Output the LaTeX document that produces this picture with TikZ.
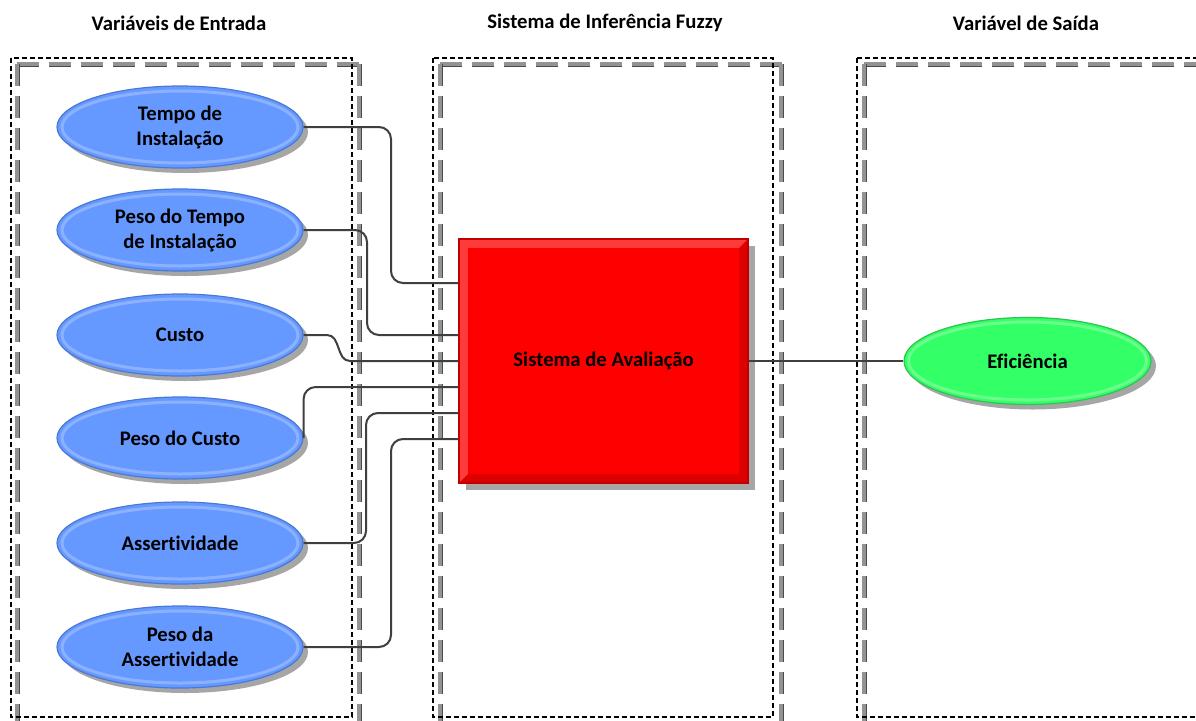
\documentclass[tikz,border=0pt]{standalone}
\usepackage{fontspec}
\setmainfont{Carlito}[Ligatures=NoCommon]
\usetikzlibrary{shapes.geometric,shadows}
\definecolor{bluefill}{HTML}{6699FF}
\definecolor{bluering}{HTML}{8CB2FF}
\definecolor{blueborder}{HTML}{4A78D6}
\definecolor{greenfill}{HTML}{33FF66}
\definecolor{greenring}{HTML}{6CFF8E}
\definecolor{greenborder}{HTML}{2EC452}
\definecolor{redlight}{HTML}{FF3A3A}
\definecolor{redshade}{HTML}{DD0000}
\definecolor{redborder}{HTML}{C00000}
\definecolor{connc}{HTML}{3F3F3F}
\definecolor{shadowc}{HTML}{A6A6A6}
\definecolor{dashgray}{HTML}{939393}
\definecolor{dashedge}{HTML}{4A4A4A}
\begin{document}
\begin{tikzpicture}[x=1pt,y=-1pt,
  txt/.style={font=\fontsize{20.7}{25}\selectfont\bfseries, align=center},
  title/.style={txt, inner sep=0pt},
  blk/.style={draw=black, line width=2.2pt, dash pattern=on 5pt off 3pt},
  grayd/.style={draw=dashedge, double=dashgray, line width=0.8pt, double distance=3.4pt, dash pattern=on 22pt off 10pt},
  conn/.style={draw=connc, line width=2pt, rounded corners=12pt},
  blueell/.style={ellipse, txt, minimum width=246pt, minimum height=82pt, inner sep=0pt,
    fill=bluefill, draw=blueborder, line width=1.2pt,
    drop shadow={shadow xshift=5pt, shadow yshift=-5pt, fill=shadowc, opacity=1},
    path picture={\draw[bluering, line width=3pt] (path picture bounding box.center) ellipse [x radius=118pt, y radius=36pt];}},
  greenell/.style={ellipse, txt, minimum width=247pt, minimum height=87pt, inner sep=0pt,
    fill=greenfill, draw=greenborder, line width=1.2pt,
    drop shadow={shadow xshift=5pt, shadow yshift=-5pt, fill=shadowc, opacity=1},
    path picture={\draw[greenring, line width=3pt] (path picture bounding box.center) ellipse [x radius=119pt, y radius=39pt];}},
  redbox/.style={rectangle, txt, minimum width=289pt, minimum height=244pt, inner sep=0pt,
    fill=redlight, draw=redborder, line width=1.5pt,
    drop shadow={shadow xshift=7pt, shadow yshift=-7pt, fill=shadowc, opacity=1},
    path picture={
      \fill[redshade] (path picture bounding box.south west) -- (path picture bounding box.south east)
        -- (path picture bounding box.north east) -- ([xshift=-9pt,yshift=-9pt]path picture bounding box.north east)
        -- ([xshift=-9pt,yshift=9pt]path picture bounding box.south east) -- ([xshift=9pt,yshift=9pt]path picture bounding box.south west) -- cycle;
      \fill[red] ([xshift=9pt,yshift=-9pt]path picture bounding box.north west) rectangle ([xshift=-9pt,yshift=9pt]path picture bounding box.south east);}}
]
\useasboundingbox (0,0) rectangle (1196,720);
\fill[white] (0,0) rectangle (1196,720);

% titles
\node[title] (t1) at (179,23) {Variáveis de Entrada};
\node[title] (t2) at (605,23) {Sistema de Inferência Fuzzy};
\node[title] (t3) at (1026,23) {Variável de Saída};

% gray dashed frames
\draw[grayd] (17,64) -- (362,64);
\draw[grayd] (17,64) -- (17,730);
\draw[grayd] (359,64) -- (359,730);
\draw[grayd] (440,64) -- (784,64);
\draw[grayd] (440,64) -- (440,730);
\draw[grayd] (781,64) -- (781,730);
\draw[grayd] (864,64) -- (1210,64);
\draw[grayd] (864,64) -- (864,730);
% black dashed frames
\draw[blk] (11,58) rectangle (352,717);
\draw[blk] (433,58) rectangle (773,717);
\draw[blk] (857,58) -- (1210,58);
\draw[blk] (857,58) -- (857,717) -- (1210,717);

% nodes
\node[blueell] (e1) at (180,127) {Tempo de\\Instalação};
\node[blueell] (e2) at (180,230) {Peso do Tempo\\de Instalação};
\node[blueell] (e3) at (180,335) {Custo};
\node[blueell] (e4) at (180,438) {Peso do Custo};
\node[blueell] (e5) at (180,543) {Assertividade};
\node[blueell] (e6) at (180,647) {Peso da\\Assertividade};
\node[redbox] (sa) at (603.5,361) {Sistema de Avaliação};
\node[greenell] (ef) at (1027.5,361) {Eficiência};

% connectors
\draw[conn] (e1.east) -| (391,283) -- ([yshift=78pt]sa.west);
\draw[conn] (e2.east) -| (367,335) -- ([yshift=26pt]sa.west);
\draw[connc, line width=2pt] (e3.east) -- (327,335) .. controls (341,335) and (336,361) .. (350,361) -- (sa.west);
\draw[conn] (e4.east) |- ([yshift=-26pt]sa.west);
\draw[conn] (e5.east) -| (366,413) -- ([yshift=-52pt]sa.west);
\draw[conn] (e6.east) -| (391,439) -- ([yshift=-78pt]sa.west);
\draw[connc, line width=2pt] (sa.east) -- (ef.west);
\end{tikzpicture}
\end{document}
